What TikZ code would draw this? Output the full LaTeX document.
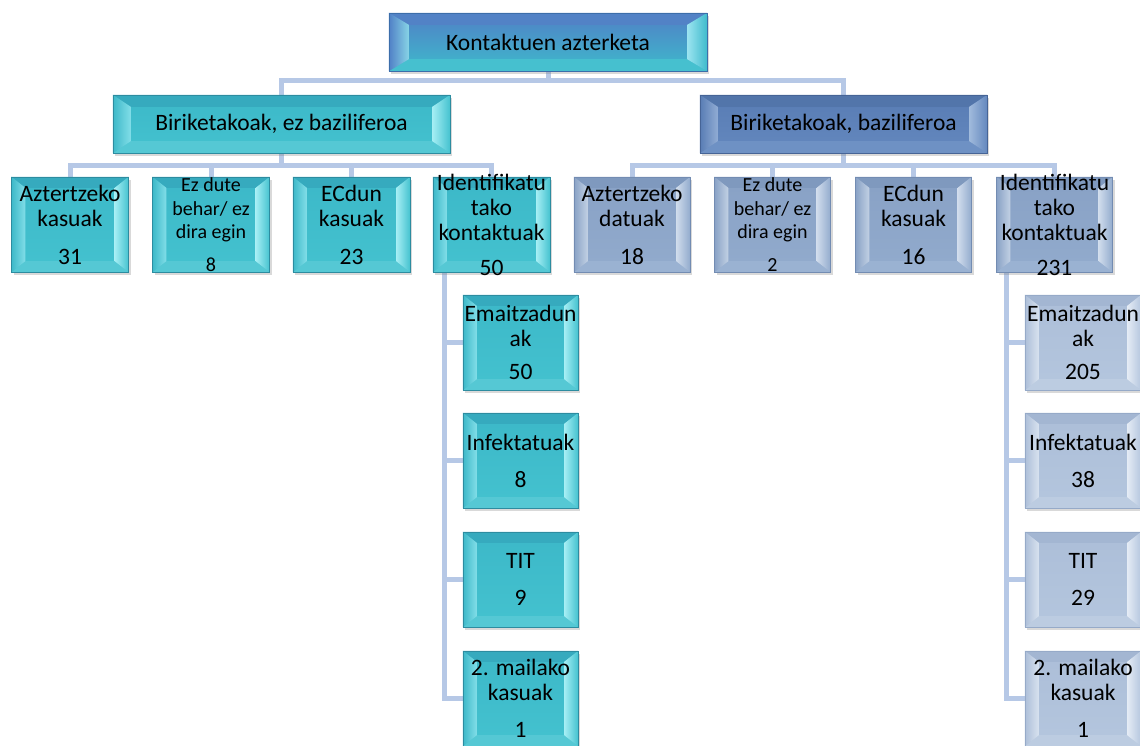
\documentclass[tikz,border=0pt]{standalone}
\usepackage{fontspec}
\setmainfont{Carlito}
\usetikzlibrary{backgrounds,shadows,calc}

\definecolor{connc}{RGB}{182,200,230}
% teal
\definecolor{tlA}{RGB}{60,184,200}
\definecolor{tlB}{RGB}{68,194,207}
\definecolor{tlT}{RGB}{54,170,190}
\definecolor{tlL}{RGB}{130,222,232}
\definecolor{tlR}{RGB}{165,238,244}
\definecolor{tlD}{RGB}{85,200,212}
\definecolor{tlE}{RGB}{45,140,160}
% root
\definecolor{rtA}{RGB}{80,128,198}
\definecolor{rtB}{RGB}{62,186,204}
\definecolor{rtT}{RGB}{82,130,198}
\definecolor{rtL}{RGB}{135,212,230}
\definecolor{rtR}{RGB}{155,228,240}
\definecolor{rtD}{RGB}{70,192,207}
\definecolor{rtE}{RGB}{60,110,170}
% level 1 right
\definecolor{baA}{RGB}{88,124,180}
\definecolor{baB}{RGB}{100,136,190}
\definecolor{baT}{RGB}{82,117,170}
\definecolor{baL}{RGB}{145,172,212}
\definecolor{baR}{RGB}{160,186,220}
\definecolor{baD}{RGB}{110,145,196}
\definecolor{baE}{RGB}{70,100,150}
% level 2 right
\definecolor{bbA}{RGB}{136,161,197}
\definecolor{bbB}{RGB}{146,171,205}
\definecolor{bbT}{RGB}{127,153,190}
\definecolor{bbL}{RGB}{194,209,228}
\definecolor{bbR}{RGB}{208,220,236}
\definecolor{bbD}{RGB}{154,178,210}
\definecolor{bbE}{RGB}{115,140,178}
% level 3 right
\definecolor{bcA}{RGB}{172,190,216}
\definecolor{bcB}{RGB}{180,198,222}
\definecolor{bcT}{RGB}{163,182,210}
\definecolor{bcL}{RGB}{216,226,239}
\definecolor{bcR}{RGB}{228,235,245}
\definecolor{bcD}{RGB}{188,204,225}
\definecolor{bcE}{RGB}{150,170,200}

\tikzset{
  boxbase/.style={rectangle, inner sep=0pt,
    drop shadow={shadow xshift=2pt, shadow yshift=-3pt, opacity=.3}},
  txt/.style={font=\fontsize{23.5}{25}\selectfont, align=center, inner sep=0pt, text=black},
  stxt/.style={font=\fontsize{20}{23.5}\selectfont, align=center, inner sep=0pt, text=black},
  conn/.style={draw=connc, line width=5pt, line join=miter},
}

% #1 name, #2 cx, #3 cy, #4 w, #5 h, #6 colour prefix, #7 bevel x, #8 bevel y
\newcommand\bevbox[8]{%
  \node[boxbase, minimum width=#4pt, minimum height=#5pt,
        top color=#6A, bottom color=#6B] (#1) at (#2,#3) {};
  \fill[#6T] (#1.north west) -- ([shift={(#7,#8)}]#1.north west)
     -- ([shift={(-#7,#8)}]#1.north east) -- (#1.north east) -- cycle;
  \fill[#6D] (#1.south west) -- ([shift={(#7,-#8)}]#1.south west)
     -- ([shift={(-#7,-#8)}]#1.south east) -- (#1.south east) -- cycle;
  \shade[left color=#6A, right color=#6L] (#1.north west) -- ([shift={(#7,#8)}]#1.north west)
     -- ([shift={(#7,-#8)}]#1.south west) -- (#1.south west) -- cycle;
  \shade[left color=#6R, right color=#6B] (#1.north east) -- ([shift={(-#7,#8)}]#1.north east)
     -- ([shift={(-#7,-#8)}]#1.south east) -- (#1.south east) -- cycle;
  \draw[#6E, line width=.6pt] (#1.north west) rectangle (#1.south east);
}

\begin{document}
\begin{tikzpicture}[x=1pt, y=-1pt]
\useasboundingbox (0,0) rectangle (1140,745);
\clip (0,0) rectangle (1140,745);

% root and level 1
\bevbox{root}{548}{42}{318}{58}{rt}{20}{12}
\node[txt] (roott) at (root.center) {Kontaktuen azterketa};
\bevbox{l1a}{281.5}{124}{337}{58}{tl}{18}{12}
\node[txt] (l1at) at (l1a.center) {Biriketakoak, ez baziliferoa};
\bevbox{l1b}{843.5}{124}{287}{58}{ba}{18}{12}
\node[txt] (l1bt) at (l1b.center) {Biriketakoak, baziliferoa};

% level 2 left
\bevbox{a1}{70}{224.5}{117}{95}{tl}{14}{11}
\node[txt] (a1t) at (a1.center) {Aztertzeko\\kasuak\\[13pt]31};
\bevbox{a2}{211}{224.5}{117}{95}{tl}{14}{11}
\node[stxt] (a2t) at (a2.center) {Ez dute\\behar/ ez\\dira egin\\[9pt]8};
\bevbox{a3}{351.5}{224.5}{117}{95}{tl}{14}{11}
\node[txt] (a3t) at (a3.center) {ECdun\\kasuak\\[13pt]23};
\bevbox{a4}{491.5}{224.5}{117}{95}{tl}{14}{11}
\node[txt] (a4t) at (a4.center) {Identifikatu\\tako\\kontaktuak\\[10pt]50};

% level 2 right
\bevbox{b1}{632}{224.5}{116}{95}{bb}{14}{11}
\node[txt] (b1t) at (b1.center) {Aztertzeko\\datuak\\[13pt]18};
\bevbox{b2}{772.5}{224.5}{116}{95}{bb}{14}{11}
\node[stxt] (b2t) at (b2.center) {Ez dute\\behar/ ez\\dira egin\\[9pt]2};
\bevbox{b3}{913.5}{224.5}{116}{95}{bb}{14}{11}
\node[txt] (b3t) at (b3.center) {ECdun\\kasuak\\[13pt]16};
\bevbox{b4}{1054.5}{224.5}{116}{95}{bb}{14}{11}
\node[txt] (b4t) at (b4.center) {Identifikatu\\tako\\kontaktuak\\[10pt]231};

% level 3 left
\bevbox{a5}{520.5}{342.5}{115}{95}{tl}{14}{11}
\node[txt] (a5t) at (a5.center) {Emaitzadun\\ak\\[8pt]50};
\bevbox{a6}{520.5}{460.5}{115}{95}{tl}{14}{11}
\node[txt] (a6t) at (a6.center) {Infektatuak\\[12pt]8};
\bevbox{a7}{520.5}{579.5}{115}{95}{tl}{14}{11}
\node[txt] (a7t) at (a7.center) {TIT\\[12pt]9};
\bevbox{a8}{520.5}{698.5}{115}{95}{tl}{14}{11}
\node[txt] (a8t) at (a8.center) {2. mailako\\kasuak\\[12pt]1};

% level 3 right
\bevbox{b5}{1083}{342.5}{116}{95}{bc}{14}{11}
\node[txt] (b5t) at (b5.center) {Emaitzadun\\ak\\[8pt]205};
\bevbox{b6}{1083}{460.5}{116}{95}{bc}{14}{11}
\node[txt] (b6t) at (b6.center) {Infektatuak\\[12pt]38};
\bevbox{b7}{1083}{579.5}{116}{95}{bc}{14}{11}
\node[txt] (b7t) at (b7.center) {TIT\\[12pt]29};
\bevbox{b8}{1083}{698.5}{116}{95}{bc}{14}{11}
\node[txt] (b8t) at (b8.center) {2. mailako\\kasuak\\[12pt]1};

% connectors
\begin{scope}[on background layer]
\draw[conn] (root.south) -- ++(0,9) -| (l1a.north);
\draw[conn] (root.south) -- ++(0,9) -| (l1b.north);
\foreach \n in {a1,a2,a3,a4}{\draw[conn] (l1a.south) -- ++(0,12) -| (\n.north);}
\foreach \n in {b1,b2,b3,b4}{\draw[conn] (l1b.south) -- ++(0,12) -| (\n.north);}
\foreach \n in {a5,a6,a7,a8}{\draw[conn] ([xshift=12pt]a4.south west) |- (\n.west);}
\foreach \n in {b5,b6,b7,b8}{\draw[conn] ([xshift=10pt]b4.south west) |- (\n.west);}
\end{scope}
\end{tikzpicture}
\end{document}
